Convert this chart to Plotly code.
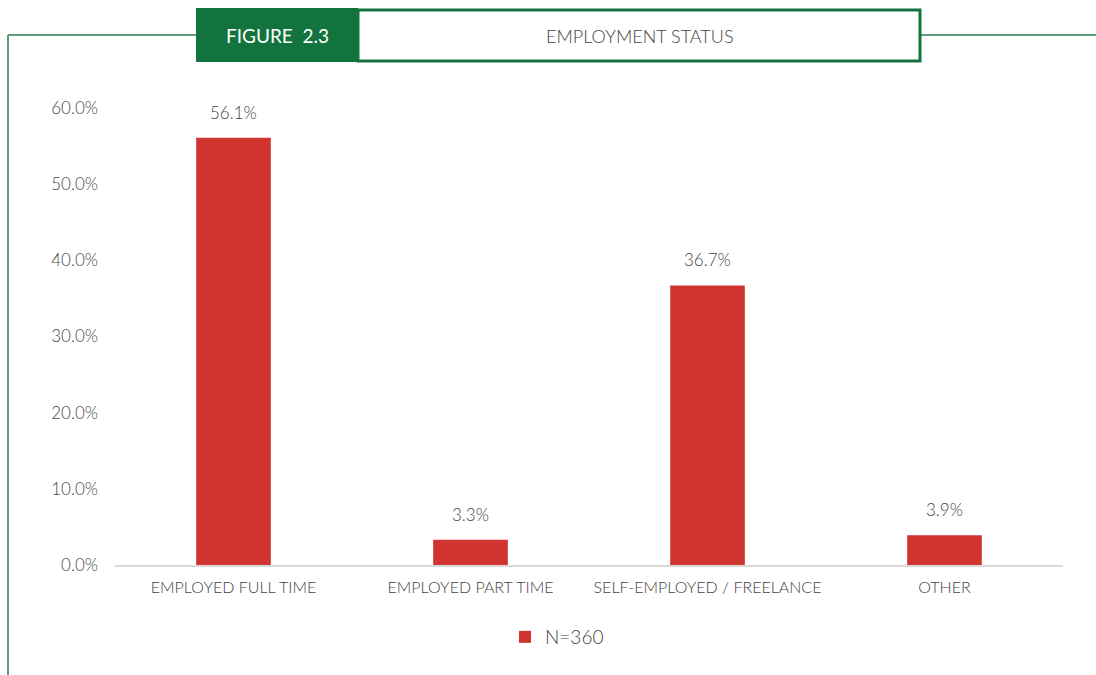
import plotly.graph_objects as go

categories = ["EMPLOYED FULL TIME", "EMPLOYED PART TIME", "SELF-EMPLOYED / FREELANCE", "OTHER"]
values = [56.1, 3.3, 36.7, 3.9]
series_name = "N=360"
tick_vals = [0, 10, 20, 30, 40, 50, 60]
tick_text = ["0.0%", "10.0%", "20.0%", "30.0%", "40.0%", "50.0%", "60.0%"]
figure_label = "FIGURE&nbsp;&nbsp;2.3"
figure_title = "EMPLOYMENT STATUS"

W, H = 1096, 675
L, R, T, B = 115, 33, 108, 110
pw, ph = W - L - R, H - T - B

def px(x):
    return (x - L) / pw

def py(y):
    return (H - B - y) / ph

FONT = "Lato"
GREEN = "#13733e"
LINE_GREEN = "#5c9e78"
RED = "#d0352f"
TXT = "#444444"

fig = go.Figure()
fig.add_trace(go.Bar(
    x=categories, y=values, name=series_name,
    marker=dict(color=RED, line=dict(width=0)),
    width=0.315,
    showlegend=True,
    hoverinfo="x+y",
))

shapes = [
    dict(type="line", xref="paper", yref="paper", x0=px(8), x1=px(196), y0=py(35), y1=py(35),
         line=dict(color=LINE_GREEN, width=2)),
    dict(type="line", xref="paper", yref="paper", x0=px(921), x1=px(1096), y0=py(35), y1=py(35),
         line=dict(color=LINE_GREEN, width=2)),
    dict(type="line", xref="paper", yref="paper", x0=px(8), x1=px(8), y0=py(35), y1=py(675),
         line=dict(color=LINE_GREEN, width=2)),
    dict(type="rect", xref="paper", yref="paper", x0=px(358), x1=px(920), y0=py(10), y1=py(61),
         line=dict(color=GREEN, width=3), fillcolor="white"),
    dict(type="rect", xref="paper", yref="paper", x0=px(196), x1=px(358), y0=py(8), y1=py(62),
         line=dict(color=GREEN, width=0), fillcolor=GREEN),
]

annotations = [
    dict(xref="paper", yref="paper", x=px(277), y=py(36), text=figure_label, showarrow=False,
         font=dict(family=FONT, size=19, color="white"), xanchor="center", yanchor="middle"),
    dict(xref="paper", yref="paper", x=px(640), y=py(36), text=figure_title, showarrow=False,
         font=dict(family=FONT, size=18, color=TXT, weight=300), xanchor="center", yanchor="middle"),
]
for c, v in zip(categories, values):
    annotations.append(dict(
        xref="x", yref="y", x=c, y=v, text=f"{v:.1f}%", showarrow=False,
        xanchor="center", yanchor="bottom", yshift=13,
        font=dict(family=FONT, size=17, color=TXT, weight=300),
    ))

fig.update_layout(
    width=W, height=H,
    margin=dict(l=L, r=R, t=T, b=B),
    paper_bgcolor="white", plot_bgcolor="white",
    shapes=shapes, annotations=annotations,
    legend=dict(orientation="h", x=px(505), xanchor="left", y=py(637), yanchor="middle",
                font=dict(family=FONT, size=19, color=TXT, weight=300), itemwidth=30,
                bgcolor="rgba(0,0,0,0)"),
    xaxis=dict(showgrid=False, showline=True, linecolor="#d9d9d9", linewidth=1.5,
               tickfont=dict(family=FONT, size=16, color=TXT, weight=300), ticks="",
               ticklabelstandoff=7, zeroline=False),
    yaxis=dict(range=[0, 60], tickvals=tick_vals, ticktext=tick_text, showgrid=False,
               zeroline=False, showline=False, ticks="", ticklabelstandoff=16,
               tickfont=dict(family=FONT, size=17, color="#4a4a4a", weight=300)),
)

fig.write_html("out.html", config={"displayModeBar": False},
               post_script="document.body.style.margin='0';")
